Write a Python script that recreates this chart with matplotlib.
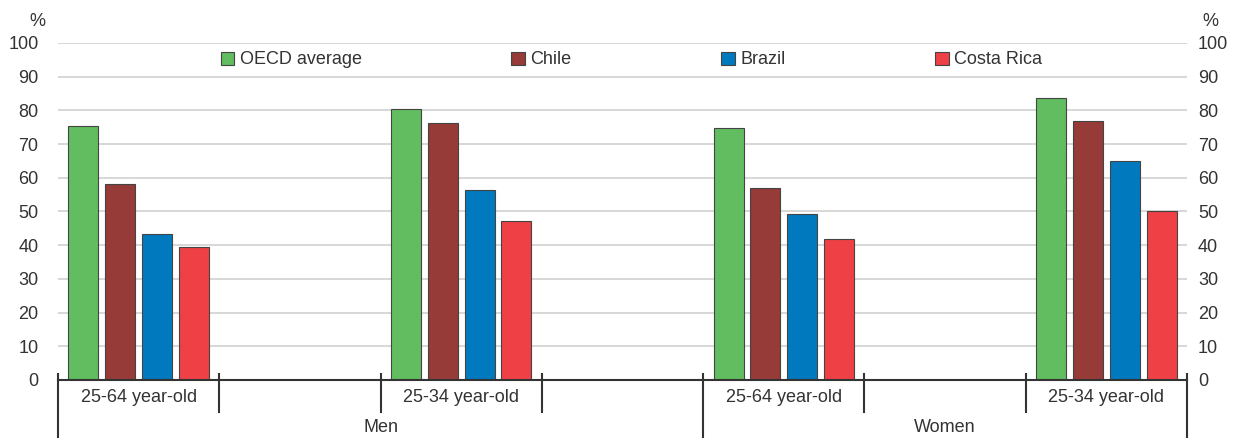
import numpy as np
import matplotlib
matplotlib.use("Agg")
import matplotlib.pyplot as plt
from matplotlib.patches import Patch

plt.rcParams['font.family'] = ['Liberation Sans Narrow', 'Liberation Sans', 'DejaVu Sans']

# Data (percent)
series = ["OECD average", "Chile", "Brazil", "Costa Rica"]
colors = ["#61bd5f", "#963b37", "#0079be", "#ef4046"]
slot_labels = ["25-64 year-old", "", "25-34 year-old", "", "25-64 year-old", "", "25-34 year-old"]
group_labels = ["Men", "Women"]
group_edges = [(0, 4), (4, 7)]  # slot index ranges for each group

oecd = [75.4, None, 80.4, None, 74.8, None, 83.7]
chile = [58.2, None, 76.3, None, 57.0, None, 76.9]
brazil = [43.3, None, 56.4, None, 49.3, None, 65.0]
costa_rica = [39.5, None, 47.2, None, 41.8, None, 50.1]
values = [oecd, chile, brazil, costa_rica]

text_color = "#333333"
W, H = 1237, 438

fig = plt.figure(figsize=(W / 100, H / 100), dpi=100)
ax = fig.add_axes([58 / W, 1 - 380 / H, (1187 - 58) / W, (380 - 43) / H])

n_slots = len(slot_labels)
bar_w = 0.186
pitch = 0.228
offsets = (np.arange(len(series)) - 1.5) * pitch

for i, (name, vals, col) in enumerate(zip(series, values, colors)):
    xs = [k + offsets[i] for k, v in enumerate(vals) if v is not None]
    ys = [v for v in vals if v is not None]
    ax.bar(xs, ys, width=bar_w, color=col, edgecolor="#444444", linewidth=0.8, zorder=3)

ax.set_xlim(-0.5, n_slots - 0.5)
ax.set_ylim(0, 100)
ax.set_yticks(np.arange(0, 101, 10))
ax.yaxis.grid(True, color="#d4d4d4", linewidth=1.3, zorder=0)
ax.set_axisbelow(True)
for s in ["top", "right", "left"]:
    ax.spines[s].set_visible(False)
ax.spines["bottom"].set_color(text_color)
ax.spines["bottom"].set_linewidth(1.5)
ax.spines["bottom"].set_zorder(4)
ax.tick_params(axis="y", length=0, labelsize=13, colors=text_color, pad=14)
ax.set_xticks([])

ax2 = ax.twinx()
ax2.set_ylim(0, 100)
ax2.set_yticks(np.arange(0, 101, 10))
for s in ["top", "right", "left", "bottom"]:
    ax2.spines[s].set_visible(False)
ax2.tick_params(axis="y", length=0, labelsize=13, colors=text_color, pad=8)

ax.text(-0.0186, 1.065, "%", transform=ax.transAxes, ha="center", va="center",
        fontsize=13, color=text_color)
ax.text(1.021, 1.065, "%", transform=ax.transAxes, ha="center", va="center",
        fontsize=13, color=text_color)

# category separators and labels
axh = 380 - 43
tr = ax.get_xaxis_transform()
outer = {g[0] for g in group_edges} | {group_edges[-1][1]}
for k in range(n_slots + 1):
    x = k - 0.5
    y_low = -58 / axh if k in outer else -32 / axh
    ax.plot([x, x], [6 / axh, y_low], transform=tr, color=text_color,
            linewidth=1.5, clip_on=False, zorder=5)
for k, lab in enumerate(slot_labels):
    if lab:
        ax.text(k, -18 / axh, lab, transform=tr, ha="center", va="center",
                fontsize=13, color=text_color)
for (a, b), lab in zip(group_edges, group_labels):
    ax.text((a + b) / 2 - 0.5, -48 / axh, lab, transform=tr, ha="center", va="center",
            fontsize=13, color=text_color)

handles = [Patch(facecolor=c, edgecolor="#444444", linewidth=0.8) for c in colors]
ax.legend(handles, series, ncol=4, loc="center", bbox_to_anchor=(0.508, 0.9496),
          frameon=False, fontsize=13, handlelength=0.75, handleheight=0.75,
          handletextpad=0.3, columnspacing=8.3, labelcolor=text_color)

fig.savefig("out.png", dpi=100)
